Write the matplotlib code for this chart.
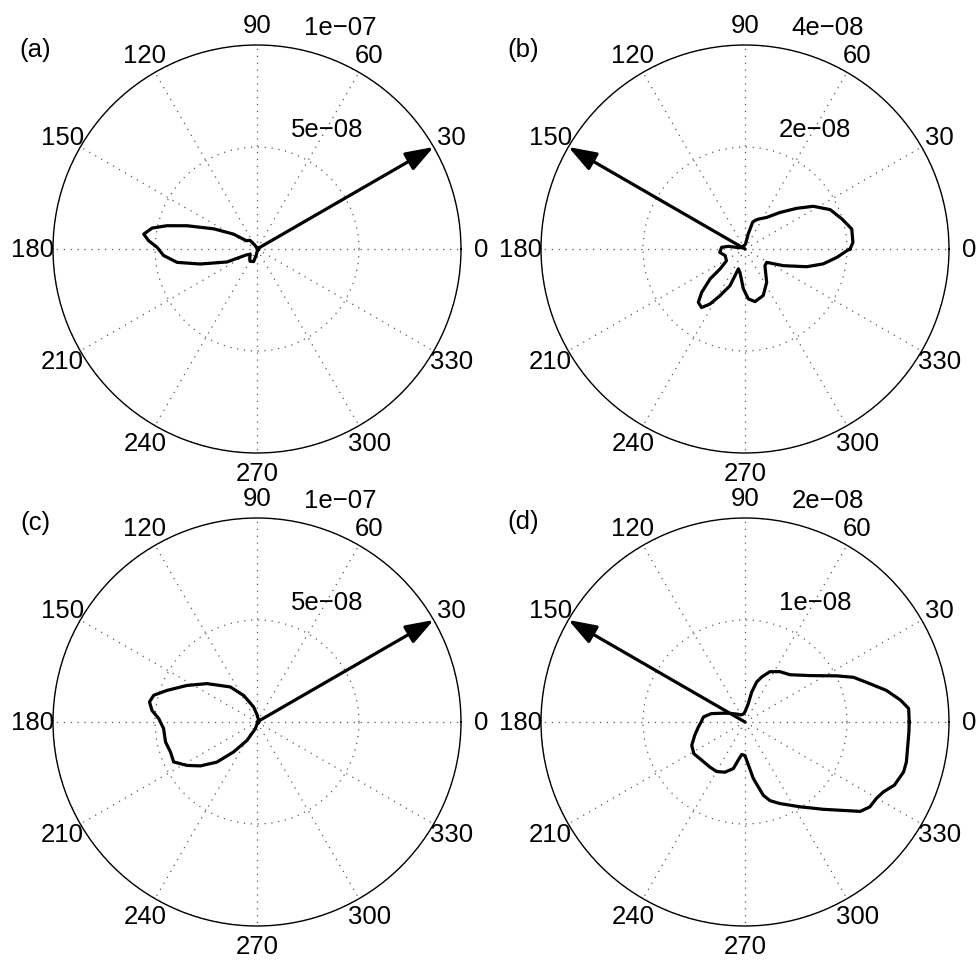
import numpy as np
import matplotlib
matplotlib.use("Agg")
import matplotlib.pyplot as plt

plt.rcParams['font.family'] = ['Liberation Sans', 'DejaVu Sans']

# radii in units of 1e-8, angles in degrees
theta_a = [0, 30, 60, 90, 110, 120, 129, 142, 147.7, 155,
           161.6, 165.5, 168.7, 172.5, 175.6, 179, 184, 189.5, 194.8, 203.4,
           209, 218, 232, 240, 255, 263, 280, 300, 330, 360]
r_a = [0.08, 0.08, 0.08, 0.08, 0.08, 0.23, 0.55, 0.66, 1.37, 2.34,
       3.61, 4.56, 5.24, 5.60, 5.33, 4.90, 4.59, 3.97, 2.88, 1.60,
       0.60, 0.42, 0.58, 0.69, 0.64, 0.30, 0.08, 0.08, 0.08, 0.08]

theta_b = [0, 3.5, 10.6, 17.2, 24.8, 32, 38.2, 46.3, 55.6, 66,
           70, 74, 78, 84, 100, 130, 160, 169, 171, 175.9,
           187.6, 198.4, 212.5, 218.7, 220.6, 225, 228.8, 233.4, 237.5, 241.8,
           247.7, 251.6, 257.9, 267.6, 273.8, 280.8, 291.4, 303, 320, 328.4,
           336.5, 344, 349.2, 354.8, 359.1]
r_b = [2.06, 2.12, 2.13, 1.99, 1.84, 1.58, 1.29, 0.99, 0.75, 0.64,
       0.60, 0.55, 0.30, 0.10, 0.07, 0.07, 0.07, 0.16, 0.33, 0.46,
       0.50, 0.41, 0.43, 0.63, 0.90, 1.20, 1.39, 1.43, 1.28, 1.04,
       0.78, 0.41, 0.47, 0.78, 0.98, 1.05, 0.98, 0.78, 0.51, 0.50,
       0.82, 1.26, 1.56, 1.81, 2.00]

theta_c = [0, 30, 64, 90, 102.5, 116.6, 127.3, 142.5, 152.4, 160.6,
           165.5, 169.4, 173.7, 178, 184, 192.3, 199.1, 205.6, 211.8, 217.8,
           225, 232, 241.4, 256, 270, 300, 330, 360]
r_c = [0.08, 0.08, 0.15, 0.36, 0.75, 1.45, 2.16, 3.09, 3.87, 4.67,
       5.23, 5.36, 5.18, 4.82, 4.59, 4.59, 4.49, 4.53, 4.04, 3.51,
       2.78, 1.86, 1.03, 0.34, 0.10, 0.08, 0.08, 0.08]

theta_d = [0, 4.7, 8.0, 12.6, 18.2, 22.4, 26.6, 35.7, 46.4, 55.4,
           63.7, 69.7, 73.7, 77.4, 80, 90, 101, 120, 135, 150,
           158, 166, 173, 180, 186.1, 194.9, 203.6, 211.8, 219.2, 232.1,
           240.1, 248.2, 256, 259.9, 264.2, 270, 274.4, 278.4, 284, 287.7,
           293.2, 302.9, 311.9, 322.2, 325.8, 329.8, 333.2, 337.1, 342.5, 346.1,
           356.5]
r_d = [1.61, 1.61, 1.54, 1.42, 1.25, 1.15, 1.01, 0.78, 0.64, 0.60,
       0.55, 0.47, 0.41, 0.30, 0.18, 0.10, 0.08, 0.08, 0.11, 0.17,
       0.23, 0.34, 0.41, 0.43, 0.46, 0.51, 0.57, 0.59, 0.57, 0.56,
       0.56, 0.53, 0.47, 0.38, 0.32, 0.33, 0.42, 0.56, 0.74, 0.81,
       0.87, 0.99, 1.15, 1.43, 1.48, 1.49, 1.52, 1.59, 1.63, 1.63,
       1.61]

panel_names = ['(a)', '(b)', '(c)', '(d)']
thetas = [theta_a, theta_b, theta_c, theta_d]
radii = [r_a, r_b, r_c, r_d]
r_max = [10, 4, 10, 2]
ring_labels = [('5e\u221208', '1e\u221207'), ('2e\u221208', '4e\u221208'),
               ('5e\u221208', '1e\u221207'), ('1e\u221208', '2e\u221208')]
arrow_deg = [30, 150, 30, 150]
angle_ticks = list(range(0, 360, 30))

W, H, R = 979, 962, 204
centers = [(257, 250), (745, 250), (257, 723), (745, 723)]
name_pos = [(35, 50), (523, 50), (35, 523), (523, 522)]

fig = plt.figure(figsize=(W / 100, H / 100), dpi=100)

for i in range(4):
    cx, cy = centers[i]
    ax = fig.add_axes([(cx - R) / W, (H - cy - R) / H, 2 * R / W, 2 * R / H],
                      projection='polar')
    rm = r_max[i]
    ax.set_ylim(0, rm)
    ax.set_xticks(np.deg2rad(angle_ticks))
    ax.set_xticklabels([])
    ax.set_yticks([rm / 2, rm])
    ax.set_yticklabels([])
    ax.grid(True, color='0.35', linewidth=0.9, linestyle=(0, (1, 4.5)))
    ax.spines['polar'].set_linewidth(1.0)
    ax.patch.set_alpha(0)

    # closed curve
    th = np.deg2rad(thetas[i] + [thetas[i][0]])
    rr = radii[i] + [radii[i][0]]
    ax.plot(th, rr, color='black', linewidth=2.3, zorder=3)

    # arrow from origin to outer circle
    ax.annotate('', xy=(np.deg2rad(arrow_deg[i]), rm), xytext=(0, 0),
                arrowprops=dict(arrowstyle='-|>,head_length=0.85,head_width=0.3',
                                color='black', lw=2.3, mutation_scale=20,
                                shrinkA=0, shrinkB=0), zorder=4)

    for a in angle_ticks:
        ax.text(np.deg2rad(a), 1.1 * rm, str(a), ha='center', va='center',
                fontsize=18.5, clip_on=False)

    ax.text(np.deg2rad(59.7), 0.68 * rm, ring_labels[i][0], ha='center',
            va='center', fontsize=18.5, clip_on=False)
    ax.text(np.deg2rad(69.5), 1.162 * rm, ring_labels[i][1], ha='center',
            va='center', fontsize=18.5, clip_on=False)

    nx, ny = name_pos[i]
    fig.text(nx / W, 1 - ny / H, panel_names[i], ha='center', va='center',
             fontsize=18.5)

fig.savefig('out.png', dpi=100, facecolor='white')
